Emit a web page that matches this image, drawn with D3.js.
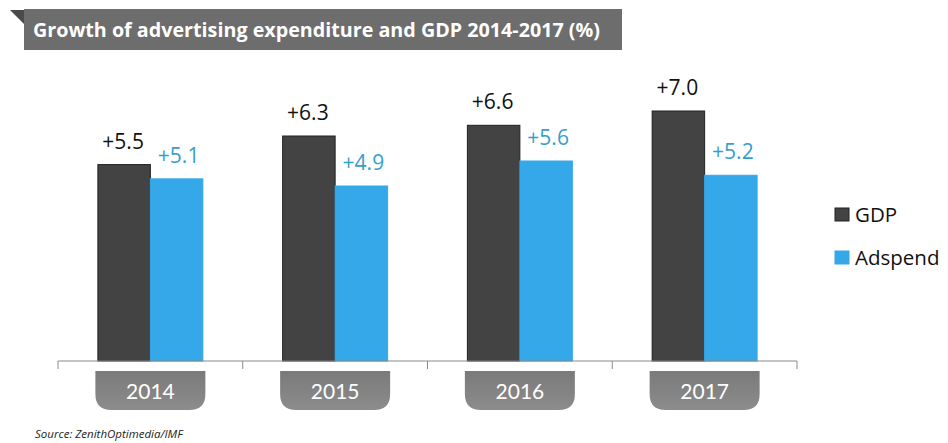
<!DOCTYPE html>
<html>
<head>
<meta charset="utf-8">
<script src="https://cdn.jsdelivr.net/npm/d3@7"></script>
<style>
  html, body { margin: 0; padding: 0; background: #fff; }
  svg { display: block; }
</style>
</head>
<body>
<svg id="chart" width="948" height="443"></svg>
<script>
// Growth figures (%), one entry per year
const years = ["2014", "2015", "2016", "2017"];
const seriesNames = ["GDP", "Adspend"];
const gdpGrowth = [5.5, 6.3, 6.6, 7.0];
const adspendGrowth = [5.1, 4.9, 5.6, 5.2];
const valueLabels = {
  GDP: ["+5.5", "+6.3", "+6.6", "+7.0"],
  Adspend: ["+5.1", "+4.9", "+5.6", "+5.2"]
};
const titleText = "Growth of advertising expenditure and GDP 2014-2017 (%)";
const sourceText = "Source: ZenithOptimedia/IMF";

const rows = years.map((y, i) => ({
  year: y,
  values: [
    { key: "GDP", value: gdpGrowth[i], label: valueLabels.GDP[i] },
    { key: "Adspend", value: adspendGrowth[i], label: valueLabels.Adspend[i] }
  ]
}));

const svg = d3.select("#chart");
const baseline = 361;

const x = d3.scaleBand().domain(years).range([58, 797]).paddingInner(0).paddingOuter(0);
const xInner = d3.scaleBand().domain(seriesNames).range([0, x.bandwidth()])
  .paddingInner(0).paddingOuter(0.76);
const y = d3.scaleLinear().domain([0, 7]).range([baseline, 111]);

const fill = { GDP: "#434343", Adspend: "#35a8ea" };
const stroke = { GDP: "#222", Adspend: "#35a8ea" };
const labelColor = { GDP: "#111", Adspend: "#33a0cc" };

// Title banner with folded corner
const banner = svg.append("g");
banner.append("path")
  .attr("d", "M10,10 L25,10 L25,25 Z")
  .attr("fill", "#4a4a4a");
banner.append("rect")
  .attr("x", 24).attr("y", 9).attr("width", 598).attr("height", 41)
  .attr("fill", "#6d6d6d");
banner.append("text")
  .attr("x", 33).attr("y", 37)
  .attr("fill", "#fff")
  .attr("font-family", "'Open Sans', sans-serif")
  .attr("font-weight", "bold")
  .attr("font-size", 19.5)
  .attr("textLength", 567)
  .attr("lengthAdjust", "spacingAndGlyphs")
  .text(titleText);

// Bars
const groups = svg.append("g").selectAll("g")
  .data(rows).join("g")
  .attr("transform", d => `translate(${x(d.year)},0)`);

groups.selectAll("rect")
  .data(d => d.values).join("rect")
  .attr("x", d => xInner(d.key))
  .attr("y", d => y(d.value))
  .attr("width", xInner.bandwidth())
  .attr("height", d => baseline - y(d.value))
  .attr("fill", d => fill[d.key])
  .attr("stroke", d => stroke[d.key])
  .attr("stroke-width", 1);

groups.selectAll("text.val")
  .data(d => d.values).join("text")
  .attr("class", "val")
  .attr("x", d => xInner(d.key) + xInner.bandwidth() / 2 + (d.key === "Adspend" ? 2 : -1))
  .attr("y", d => y(d.value) - 16)
  .attr("text-anchor", "middle")
  .attr("fill", d => labelColor[d.key])
  .attr("font-family", "'Open Sans', sans-serif")
  .attr("font-size", 21)
  .text(d => d.label);

// Baseline axis with separators between years
const axisG = svg.append("g").attr("transform", `translate(0,${baseline})`);
axisG.append("line")
  .attr("x1", x.range()[0]).attr("x2", x.range()[1])
  .attr("stroke", "#8a8a8a").attr("stroke-width", 1);
const boundaries = years.map(yv => x(yv)).concat([x(years[years.length - 1]) + x.bandwidth()]);
axisG.selectAll("line.tick")
  .data(boundaries).join("line")
  .attr("class", "tick")
  .attr("x1", d => d).attr("x2", d => d)
  .attr("y1", 0).attr("y2", 8)
  .attr("stroke", "#8a8a8a").attr("stroke-width", 1);

// Year tabs with rounded bottom
const tabW = 110, tabTop = 371, tabH = 39, r = 16;
const grad = svg.append("defs").append("linearGradient")
  .attr("id", "tabGrad").attr("x1", 0).attr("y1", 0).attr("x2", 0).attr("y2", 1);
grad.append("stop").attr("offset", "0%").attr("stop-color", "#7a7a7a");
grad.append("stop").attr("offset", "100%").attr("stop-color", "#8c8c8c");

const tabs = svg.append("g").selectAll("g")
  .data(years).join("g")
  .attr("transform", d => `translate(${x(d) + x.bandwidth() / 2},0)`);
tabs.append("path")
  .attr("d", () => {
    const l = -tabW / 2, rr = tabW / 2, b = tabTop + tabH;
    return `M${l},${tabTop} L${rr},${tabTop} L${rr},${b - r} Q${rr},${b} ${rr - r},${b} ` +
      `L${l + r},${b} Q${l},${b} ${l},${b - r} Z`;
  })
  .attr("fill", "url(#tabGrad)");
tabs.append("text")
  .attr("y", tabTop + 28)
  .attr("text-anchor", "middle")
  .attr("fill", "#fff")
  .attr("font-family", "Lato, sans-serif")
  .attr("font-size", 21)
  .text(d => d);

// Legend
const legend = svg.append("g").selectAll("g")
  .data(seriesNames).join("g")
  .attr("transform", (d, i) => `translate(835,${208 + i * 43})`);
legend.append("rect")
  .attr("width", 14).attr("height", 13)
  .attr("fill", d => fill[d])
  .attr("stroke", d => stroke[d]);
legend.append("text")
  .attr("x", 20).attr("y", 14)
  .attr("fill", "#111")
  .attr("font-family", "'Open Sans', sans-serif")
  .attr("font-size", 20.5)
  .text(d => d);

// Source note
svg.append("text")
  .attr("x", 35).attr("y", 438)
  .attr("fill", "#222")
  .attr("font-family", "'Open Sans', sans-serif")
  .attr("font-style", "italic")
  .attr("font-size", 11.5)
  .text(sourceText);
</script>
</body>
</html>
